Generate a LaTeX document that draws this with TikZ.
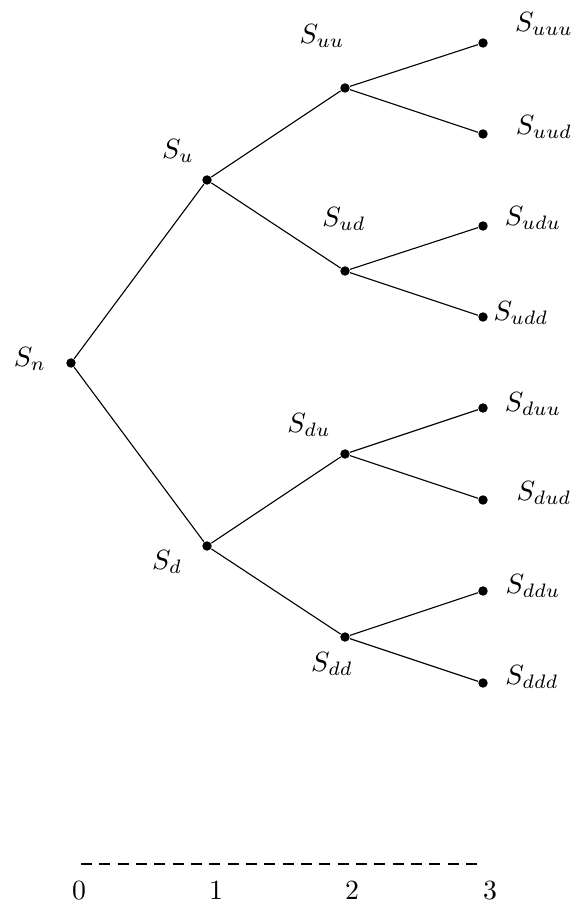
\documentclass[tikz,border=0pt]{standalone}
\usepackage{amsmath, amssymb}
\usepackage{tikz}

\tikzset{
  dot/.style={circle, fill=black, inner sep=0pt, minimum size=3.4pt},
  axisline/.style={dash pattern=on 4pt off 2.6pt},
}

\begin{document}
\begin{tikzpicture}[x=0.36pt, y=-0.36pt]
        \useasboundingbox (0,0) rectangle (573,904);
        % tree points
        \node[dot] (n) at (71,363) {};
        \node[dot] (u) at (207,180) {};
        \node[dot] (d) at (207,546) {};
        \node[dot] (uu) at (345,88) {};
        \node[dot] (ud) at (345,271) {};
        \node[dot] (du) at (345,454) {};
        \node[dot] (dd) at (345,637) {};
        \node[dot] (uuu) at (483,43) {};
        \node[dot] (uud) at (483,134) {};
        \node[dot] (udu) at (483,226) {};
        \node[dot] (udd) at (483,317) {};
        \node[dot] (duu) at (483,408) {};
        \node[dot] (dud) at (483,500) {};
        \node[dot] (ddu) at (483,591) {};
        \node[dot] (ddd) at (483,683) {};
        % branches
        \draw (n) -- (u);
        \draw (n) -- (d);
        \draw (u) -- (uu);
        \draw (u) -- (ud);
        \draw (d) -- (du);
        \draw (d) -- (dd);
        \draw (uu) -- (uuu);
        \draw (uu) -- (uud);
        \draw (ud) -- (udu);
        \draw (ud) -- (udd);
        \draw (du) -- (duu);
        \draw (du) -- (dud);
        \draw (dd) -- (ddu);
        \draw (dd) -- (ddd);
        % prices
        \node (Ln) at (30,359) {$S_n$};
        \node (Lu) at (178,151) {$S_u$};
        \node (Ld) at (167,562) {$S_d$};
        \node (Luu) at (322,36) {$S_{uu}$};
        \node (Lud) at (344,219) {$S_{ud}$};
        \node (Ldu) at (309,425) {$S_{du}$};
        \node (Ldd) at (332,664) {$S_{dd}$};
        \node (Luuu) at (544,24) {$S_{uuu}$};
        \node (Luud) at (544,127) {$S_{uud}$};
        \node (Ludu) at (533,218) {$S_{udu}$};
        \node (Ludd) at (521,313) {$S_{udd}$};
        \node (Lduu) at (533,404) {$S_{duu}$};
        \node (Ldud) at (544,493) {$S_{dud}$};
        \node (Lddu) at (533,586) {$S_{ddu}$};
        \node (Lddd) at (532,677) {$S_{ddd}$};
        % time axis
        \coordinate (a0) at (81,864);
        \coordinate (a3) at (477,864);
        \draw[axisline] (a0) -- (a3);
        \node (t0) at (79,891) {$0$};
        \node (t1) at (216,891) {$1$};
        \node (t2) at (352,891) {$2$};
        \node (t3) at (490,891) {$3$};
      \end{tikzpicture}
\end{document}
